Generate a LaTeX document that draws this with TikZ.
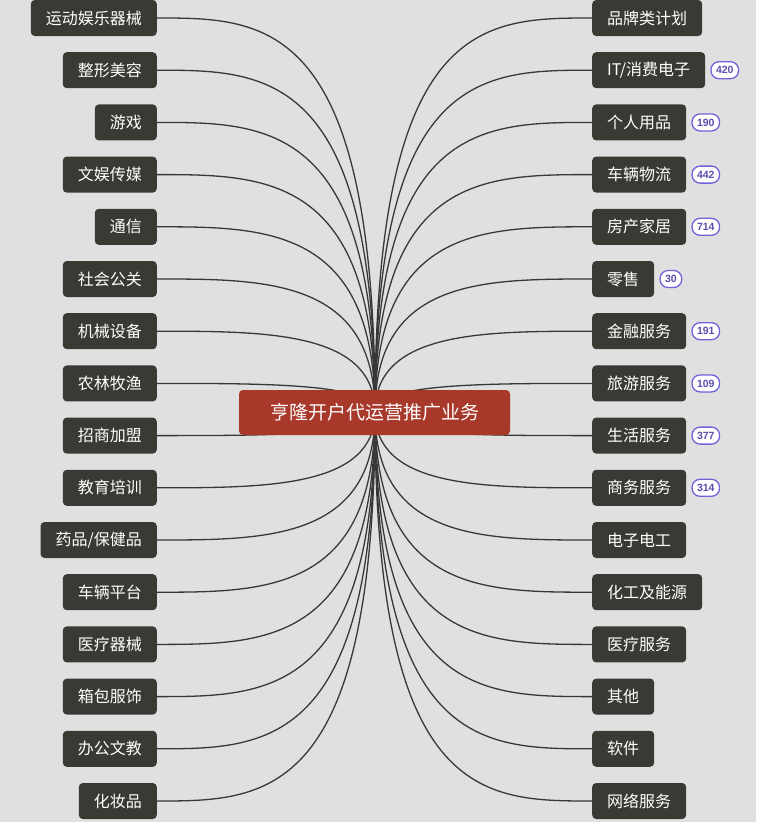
\documentclass[tikz,border=0pt]{standalone}
\usepackage{fontspec}
\newfontfamily\cjk{Noto Sans CJK SC}
\newfontfamily\bsans{Liberation Sans}
\definecolor{bg}{HTML}{E0E0E0}
\definecolor{nd}{HTML}{3A3A34}
\definecolor{rd}{HTML}{A8382A}
\definecolor{bd}{HTML}{6F63D9}
\begin{document}
\begin{tikzpicture}[x=1pt,y=-1pt,
  leaf/.style={fill=nd,text=white,rounded corners=4pt,font=\cjk\fontsize{16}{18}\selectfont,minimum height=36pt,inner xsep=15pt,inner ysep=0pt},
  badge/.style={fill=white,draw=bd,line width=1.3pt,rounded corners=8pt,text=bd!80!black,font=\bsans\bfseries\fontsize{10.5}{12}\selectfont,minimum height=17pt,inner xsep=5pt,inner ysep=0pt,anchor=west},
  conn/.style={draw=black!78,line width=1.3pt}]
\fill[bg] (0,0) rectangle (756,822);
\useasboundingbox (0,0) rectangle (756,822);
\coordinate (c) at (375,412);
\foreach \t [count=\i from 0] in {运动娱乐器械,整形美容,游戏,文娱传媒,通信,社会公关,机械设备,农林牧渔,招商加盟,教育培训,药品/保健品,车辆平台,医疗器械,箱包服饰,办公文教,化妆品}{
  \pgfmathsetmacro{\yy}{18+52.2*\i}
  \node[leaf,anchor=east] (l\i) at (157,\yy) {\t};
  \draw[conn] (c) .. controls (375,\yy) and (266,\yy) .. (l\i.east);
}
\foreach \t/\b [count=\i from 0] in {品牌类计划/,{IT/消费电子}/420,个人用品/190,车辆物流/442,房产家居/714,零售/30,金融服务/191,旅游服务/109,生活服务/377,商务服务/314,电子电工/,化工及能源/,医疗服务/,其他/,软件/,网络服务/}{
  \pgfmathsetmacro{\yy}{18+52.2*\i}
  \node[leaf,anchor=west] (r\i) at (592,\yy) {\t};
  \draw[conn] (c) .. controls (375,\yy) and (483,\yy) .. (r\i.west);
  \if\relax\detokenize\expandafter{\b}\relax\else
    \node[badge] (b\i) at ([xshift=5pt]r\i.east) {\b};
  \fi
}
\node[fill=rd,text=white,rounded corners=4pt,font=\cjk\fontsize{19}{22}\selectfont,minimum width=271pt,minimum height=45pt,inner sep=0pt] (root) at (374.5,412.5) {亨隆开户代运营推广业务};
\end{tikzpicture}
\end{document}
